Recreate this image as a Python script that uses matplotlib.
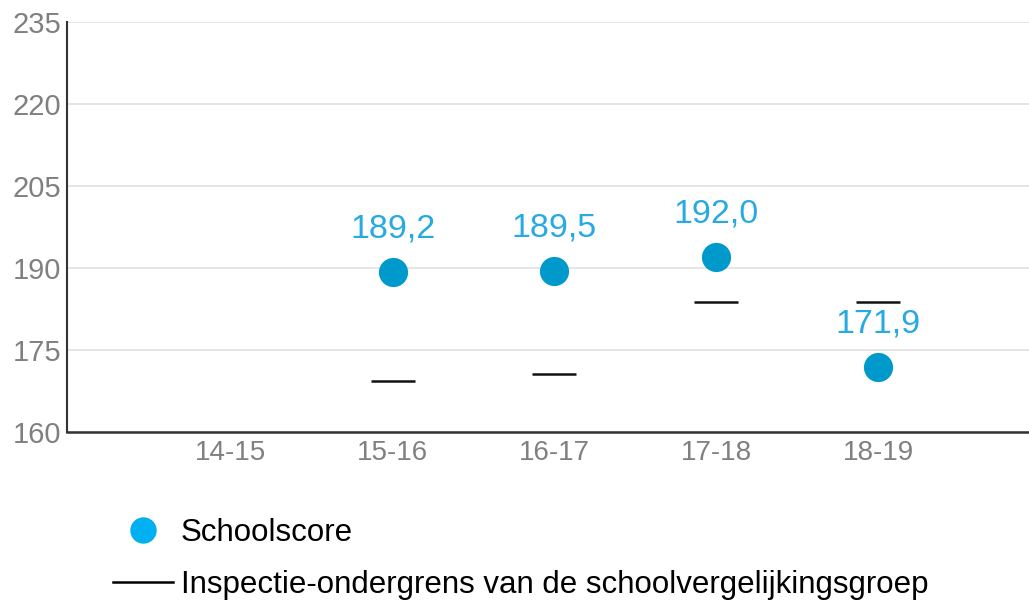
import matplotlib
matplotlib.use("Agg")
import matplotlib.pyplot as plt
from matplotlib.lines import Line2D

plt.rcParams["font.family"] = ["Liberation Sans", "DejaVu Sans"]

# data
years = ["14-15", "15-16", "16-17", "17-18", "18-19"]
score_years = ["15-16", "16-17", "17-18", "18-19"]
school_score = [189.2, 189.5, 192.0, 171.9]
lower_bound = [169.3, 170.6, 183.8, 183.8]
y_ticks = [160, 175, 190, 205, 220, 235]

DOT = "#0099CC"
LABEL = "#27A9E1"
GREY = "#808080"

fig = plt.figure(figsize=(10.29, 6.02), dpi=100)
ax = fig.add_axes([0.0651, 0.2824, 0.9349, 0.6811])

xpos = {y: i for i, y in enumerate(years)}
sx = [xpos[y] for y in score_years]

ax.plot(sx, lower_bound, linestyle="none", marker="_", markersize=32,
        markeredgewidth=1.8, color="#111111", zorder=3)
ax.plot(sx, school_score, linestyle="none", marker="o", markersize=21,
        color=DOT, markeredgewidth=0, zorder=4)

for x, v in zip(sx, school_score):
    ax.annotate(f"{v:.1f}".replace(".", ","), (x, v), xytext=(0, 31),
                textcoords="offset points", ha="center", va="center",
                fontsize=24.5, color=LABEL)

ax.set_xlim(-1.01, 4.93)
ax.set_ylim(160, 235)
ax.set_yticks(y_ticks)
ax.set_xticks(range(len(years)))
ax.set_xticklabels(years, family=["Liberation Sans Narrow", "DejaVu Sans Condensed",
                                  "Liberation Sans"])
ax.tick_params(axis="x", length=0, pad=6, labelsize=20, labelcolor=GREY)
ax.tick_params(axis="y", length=0, pad=4, labelsize=21, labelcolor=GREY)
ax.grid(axis="y", color="#E0E0E0", linewidth=1.2)
ax.set_axisbelow(True)
for s in ["top", "right"]:
    ax.spines[s].set_visible(False)
ax.spines["left"].set_color("#333333")
ax.spines["bottom"].set_color("#333333")
ax.spines["left"].set_linewidth(1.5)
ax.spines["bottom"].set_linewidth(1.8)

handles = [
    Line2D([], [], linestyle="none", marker="o", markersize=19,
           color="#00B0F0", markeredgewidth=0),
    Line2D([], [], color="black", linewidth=1.8),
]
fig.legend(handles, ["Schoolscore", "Inspectie-ondergrens van de schoolvergelijkingsgroep"],
           loc="upper left", bbox_to_anchor=(0.110, 0.140), frameon=False,
           fontsize=22.5, handlelength=1.9, handletextpad=0.27, labelspacing=0.72,
           borderaxespad=0, borderpad=0)

fig.savefig("out.png", dpi=100)
